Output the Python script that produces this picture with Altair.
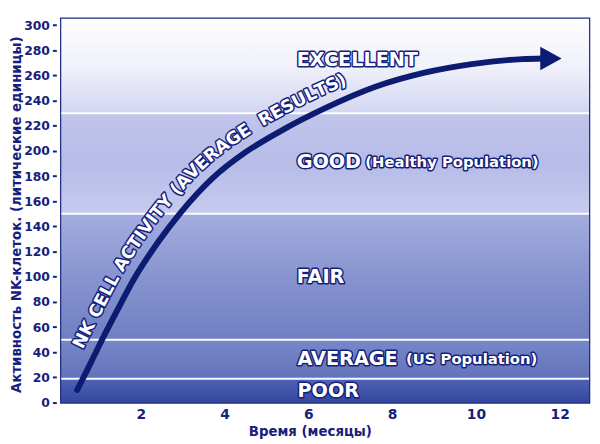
import numpy as np
import pandas as pd
import altair as alt

# ---------------- data ----------------
curve_x = [0.48, 0.75, 1.0, 1.4, 1.85, 2.4, 2.95, 3.7, 4.5, 5.4, 6.4, 7.6, 8.75, 9.9, 11.1, 11.6]
curve_y = [10, 28, 45, 71, 99, 127, 151, 178, 199, 217, 234, 251, 262, 269, 273, 273.5]
arrow_x = [11.79]
arrow_y = [273.5]

band_lo = [0, 19, 50, 150, 230]
band_hi = [19, 50, 150, 230, 305]
band_edges = [19, 50, 150, 230]

label_main = ["EXCELLENT", "GOOD", "FAIR", "AVERAGE", "POOR"]
label_main_x = [5.72, 5.72, 5.72, 5.74, 5.74]
label_main_y = [272, 191, 100, 34.5, 8.8]
label_sub = ["(Healthy Population)", "(US Population)"]
label_sub_x = [7.36, 8.33]
label_sub_y = [190.8, 34.5]

curve_text = "NK CELL ACTIVITY (AVERAGE  RESULTS)"

x_ticks = [2, 4, 6, 8, 10, 12]
y_ticks = list(range(0, 301, 20))

# ---------------- layout / style ----------------
X0, X1 = 0.1, 12.7
Y0, Y1 = 0, 305
W, H = 535, 389
NAVY = "#15217c"
LINE = "#0b1c72"

band_colors = [
    ["#5062b4", "#34479f"],
    ["#7787c7", "#6373ba"],
    ["#a4ade0", "#8794cf", "#6f7fc2"],
    ["#c1c5eb", "#b7bce8", "#c7cbef"],
    ["#fefeff", "#f0f1fa", "#d3d6f1"],
]

xs = alt.Scale(domain=[X0, X1], nice=False, zero=False)
ys = alt.Scale(domain=[Y0, Y1], nice=False, zero=False)

x_axis = alt.Axis(values=x_ticks, title="Время (месяцы)", grid=False, domain=False,
                  ticks=False, tickSize=0, labelPadding=5, labelFontSize=14,
                  titleX=252, titleY=29.5, titleBaseline="middle", titleAlign="center")
y_axis = alt.Axis(values=y_ticks, title="Активность NK-клеток. (литические единицы)",
                  grid=False, domain=False, ticks=True, tickSize=4, tickWidth=2,
                  tickColor=NAVY, offset=5, labelPadding=3, labelFontSize=12.5,
                  titleX=-40, titleY=198, titleBaseline="middle", titleAlign="center",
                  titleFontSize=13.5)


def X(field):
    return alt.X(field, scale=xs, axis=x_axis)


def Y(field):
    return alt.Y(field, scale=ys, axis=y_axis)


layers = []

# background bands with gradients
for lo, hi, cols in zip(band_lo, band_hi, band_colors):
    n = len(cols)
    stops = [alt.GradientStop(color=c, offset=i / (n - 1)) for i, c in enumerate(cols)]
    grad = alt.LinearGradient(gradient="linear", stops=stops, x1=0, x2=0, y1=0, y2=1)
    df = pd.DataFrame({"lo": [lo], "hi": [hi]})
    layers.append(
        alt.Chart(df).mark_rect(fill=grad, strokeWidth=0).encode(
            y=Y("lo:Q"), y2="hi:Q", x=alt.value(0), x2=alt.value(W)
        )
    )

# white separator lines
edges = pd.DataFrame({"y": band_edges})
layers.append(
    alt.Chart(edges).mark_rule(color="white", strokeWidth=2, opacity=0.95).encode(
        y=Y("y:Q"), x=alt.value(0), x2=alt.value(W)
    )
)

# band labels (outlined white text)
main_df = pd.DataFrame({"x": label_main_x, "y": label_main_y, "t": label_main})
sub_df = pd.DataFrame({"x": label_sub_x, "y": label_sub_y, "t": label_sub})
for df, fs in [(main_df, 19.5), (sub_df, 15)]:
    base = alt.Chart(df).encode(x=X("x:Q"), y=Y("y:Q"), text="t:N")
    layers.append(base.mark_text(align="left", baseline="middle", font="DejaVu Sans",
                                 fontWeight="bold", fontSize=fs, fill=NAVY,
                                 stroke=NAVY, strokeWidth=3, strokeJoin="round"))
    layers.append(base.mark_text(align="left", baseline="middle", font="DejaVu Sans",
                                 fontWeight="bold", fontSize=fs, fill="white"))

# curve
cdf = pd.DataFrame({"x": curve_x, "y": curve_y, "o": range(len(curve_x))})
layers.append(
    alt.Chart(cdf).mark_line(color=LINE, strokeWidth=6, interpolate="monotone",
                             strokeCap="round").encode(x=X("x:Q"), y=Y("y:Q"), order="o:Q")
)
adf = pd.DataFrame({"x": arrow_x, "y": arrow_y})
layers.append(
    alt.Chart(adf).mark_point(shape="M-0.9,-1L0.9,0L-0.9,1Z", size=576, filled=True,
                              fill=LINE, opacity=1, strokeWidth=0).encode(x=X("x:Q"), y=Y("y:Q"))
)

# ---------------- text along the curve ----------------
sx = W / (X1 - X0)
sy = H / (Y1 - Y0)
u = (np.array(curve_x) - X0) * sx
v = (np.array(curve_y) - Y0) * sy


def catmull(px, py, n=40):
    P = np.stack([px, py], 1)
    P = np.vstack([2 * P[0] - P[1], P, 2 * P[-1] - P[-2]])
    out = []
    t = np.linspace(0, 1, n, endpoint=False)[:, None]
    for i in range(1, len(P) - 2):
        p0, p1, p2, p3 = P[i - 1], P[i], P[i + 1], P[i + 2]
        seg = 0.5 * ((2 * p1) + (-p0 + p2) * t + (2 * p0 - 5 * p1 + 4 * p2 - p3) * t ** 2
                     + (-p0 + 3 * p1 - 3 * p2 + p3) * t ** 3)
        out.append(seg)
    out.append(P[-2][None, :])
    return np.vstack(out)


pts = catmull(u, v)
tx = np.gradient(pts[:, 0])
ty = np.gradient(pts[:, 1])
nrm = np.hypot(tx, ty)
tx, ty = tx / nrm, ty / nrm
OFF = 18
off = pts + OFF * np.stack([-ty, tx], 1)
seg = np.hypot(np.diff(off[:, 0]), np.diff(off[:, 1]))
s = np.concatenate([[0], np.cumsum(seg)])

i_start = int(np.argmax(pts[:, 1] / sy >= 37.5))
i_end = int(np.argmax(pts[:, 0] / sx + X0 >= 7.05))
s0, s1 = s[i_start], s[i_end]

em = {"N": .837, "K": .775, " ": .348, "C": .734, "E": .683, "L": .637, "A": .774,
      "T": .682, "I": .372, "V": .774, "Y": .724, "(": .457, ")": .457, "R": .770,
      "G": .821, "S": .720, "U": .812}
widths = np.array([em[c] for c in curve_text])
fs_curve = (s1 - s0) / widths.sum()
centers = s0 + fs_curve * (np.cumsum(widths) - widths / 2)

rows = []
for ch, sc in zip(curve_text, centers):
    if ch == " ":
        continue
    px = np.interp(sc, s, off[:, 0])
    py = np.interp(sc, s, off[:, 1])
    dx = np.interp(sc, s, tx)
    dy = np.interp(sc, s, ty)
    ang = (-np.degrees(np.arctan2(dy, dx))) % 360
    rows.append({"x": px / sx + X0, "y": py / sy + Y0, "t": ch, "a": float(ang)})
tdf = pd.DataFrame(rows)
tbase = alt.Chart(tdf).encode(x=X("x:Q"), y=Y("y:Q"), text="t:N",
                              angle=alt.Angle("a:Q", scale=None))
layers.append(tbase.mark_text(align="center", baseline="middle", font="DejaVu Sans",
                              fontWeight="bold", fontSize=float(fs_curve), fill=NAVY,
                              stroke=NAVY, strokeWidth=3, strokeJoin="round"))
layers.append(tbase.mark_text(align="center", baseline="middle", font="DejaVu Sans",
                              fontWeight="bold", fontSize=float(fs_curve), fill="white"))

chart = alt.layer(*layers).properties(
    width=W, height=H,
    autosize=alt.AutoSizeParams(type="none"),
    padding={"left": 54, "top": 8, "right": 3, "bottom": 38},
    background="white",
).configure_view(
    stroke="#1e2b80", strokeWidth=2.5
).configure_axis(
    labelFont="DejaVu Sans", labelFontWeight="bold", labelColor=NAVY,
    titleFont="DejaVu Sans", titleFontWeight="bold", titleColor=NAVY, titleFontSize=13.5,
)

chart.save("out.html", embed_options={"renderer": "svg", "actions": False})
